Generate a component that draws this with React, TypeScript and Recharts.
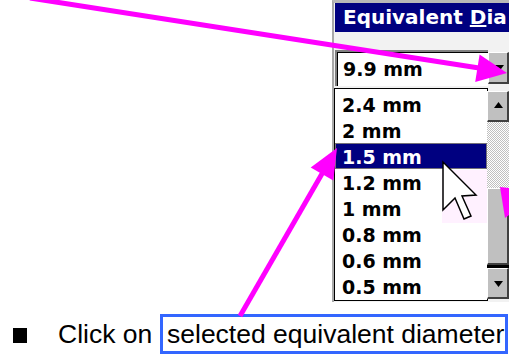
import React from 'react';
import { BarChart, Bar, XAxis, YAxis, Cell, LabelList } from 'recharts';

// list of equivalent diameters shown in the drop-down
const diameters = ['2.4 mm', '2 mm', '1.5 mm', '1.2 mm', '1 mm', '0.8 mm', '0.6 mm', '0.5 mm'];
const selectedDiameter = '1.5 mm';
const comboValue = '9.9 mm';
const dialogTitle = 'Equivalent ';
const dialogTitleHotkey = 'D';
const dialogTitleRest = 'ia';
const instructionLead = 'Click on';
const instructionTarget = 'selected equivalent diameter';

const NAVY = '#000080';
const MAGENTA = '#ff00ff';
const FACE = '#c0c0c0';
const UI_FONT = '"DejaVu Sans", sans-serif';
const TEXT_FONT = '"Liberation Sans", Arial, sans-serif';

const listData = diameters.map((d) => ({ name: d, row: 1, selected: d === selectedDiameter }));

const bevel: React.CSSProperties = {
  position: 'absolute',
  background: FACE,
  boxSizing: 'border-box',
  borderTop: '1px solid #ffffff',
  borderLeft: '1px solid #ffffff',
  borderRight: '2px solid #404040',
  borderBottom: '2px solid #404040',
};

function Triangle({ up }: { up?: boolean }) {
  return (
    <svg width="100%" height="100%" style={{ position: 'absolute', left: 0, top: 0 }}>
      <polygon
        points={up ? '6,18 15,18 10.5,12' : '6,13 15,13 10.5,19'}
        fill="#000"
        transform={up ? 'translate(0,-2)' : 'translate(0,-1)'}
      />
    </svg>
  );
}

function RowShape(props: any) {
  const { x, y, width, height, fill, payload } = props;
  const sel = payload?.selected || props.selected;
  return (
    <g>
      <rect x={x} y={y} width={width} height={height} fill={fill} />
      {sel && (
        <rect
          x={x + 0.5}
          y={y + 0.5}
          width={width - 1}
          height={height - 1}
          fill="none"
          stroke="#e8e070"
          strokeDasharray="1 1"
        />
      )}
    </g>
  );
}

function RowLabel(props: any) {
  const { x, y, height, value, index } = props;
  const sel = listData[index]?.selected;
  return (
    <text
      x={x + 7}
      y={y + height / 2 + 0.5}
      dominantBaseline="central"
      fill={sel ? '#ffffff' : '#000000'}
      fontFamily={UI_FONT}
      fontWeight="bold"
      fontSize={19}
    >
      {value}
    </text>
  );
}

export default function App() {
  return (
    <div
      style={{
        position: 'absolute',
        left: 0,
        top: 0,
        width: 509,
        height: 354,
        background: '#ffffff',
        overflow: 'hidden',
      }}
    >
      {/* dialog panel */}
      <div
        style={{
          position: 'absolute',
          left: 332,
          top: 0,
          width: 177,
          height: 302,
          background: '#f2f2f2',
          borderLeft: '2px solid #a8a8a8',
          borderTop: '3px solid #b8b8b8',
          boxSizing: 'border-box',
        }}
      />
      <div
        style={{
          position: 'absolute',
          left: 335,
          top: 3,
          width: 174,
          height: 29,
          background: NAVY,
          color: '#fff',
          fontFamily: UI_FONT,
          fontWeight: 'bold',
          fontSize: 20,
          lineHeight: '29px',
          paddingLeft: 8,
          boxSizing: 'border-box',
          whiteSpace: 'pre',
          overflow: 'hidden',
        }}
      >
        {dialogTitle}
        <u>{dialogTitleHotkey}</u>
        {dialogTitleRest}
      </div>

      {/* combo box */}
      <div
        style={{
          position: 'absolute',
          left: 335,
          top: 50,
          width: 153,
          height: 36,
          background: '#fff',
          borderTop: '2px solid #808080',
          borderLeft: '2px solid #808080',
          boxShadow: 'inset 1px 1px 0 #000',
          boxSizing: 'border-box',
          fontFamily: UI_FONT,
          fontWeight: 'bold',
          fontSize: 19,
          lineHeight: '34px',
          paddingLeft: 6,
        }}
      >
        {comboValue}
      </div>
      <div style={{ ...bevel, left: 488, top: 52, width: 21, height: 32 }}>
        <Triangle />
      </div>

      {/* list box */}
      <div
        style={{
          position: 'absolute',
          left: 334,
          top: 88,
          width: 154,
          height: 213,
          background: '#fff',
          border: '1px solid #000',
          boxSizing: 'border-box',
        }}
      >
        <div style={{ position: 'absolute', left: 0, top: 2 }}>
          <BarChart
            width={152}
            height={208}
            data={listData}
            layout="vertical"
            margin={{ top: 0, right: 0, bottom: 0, left: 0 }}
            barCategoryGap={0}
          >
            <XAxis type="number" domain={[0, 1]} hide />
            <YAxis type="category" dataKey="name" hide />
            <Bar dataKey="row" isAnimationActive={false} shape={<RowShape />}>
              {listData.map((d) => (
                <Cell key={d.name} fill={d.selected ? NAVY : '#ffffff'} />
              ))}
              <LabelList dataKey="name" content={<RowLabel />} />
            </Bar>
          </BarChart>
        </div>
      </div>

      {/* scrollbar */}
      <div style={{ ...bevel, left: 487, top: 91, width: 22, height: 31 }}>
        <Triangle up />
      </div>
      <div
        style={{
          position: 'absolute',
          left: 487,
          top: 122,
          width: 22,
          height: 66,
          background: 'repeating-conic-gradient(#c0c0c0 0 25%, #ffffff 0 50%) 0 0 / 2px 2px',
        }}
      />
      <div style={{ ...bevel, left: 487, top: 188, width: 22, height: 77 }} />
      <div style={{ position: 'absolute', left: 487, top: 265, width: 22, height: 3, background: '#000' }} />
      <div style={{ ...bevel, left: 487, top: 268, width: 22, height: 31 }}>
        <Triangle />
      </div>

      {/* instruction line */}
      <div style={{ position: 'absolute', left: 13, top: 328, width: 14, height: 15, background: '#000' }} />
      <div
        style={{
          position: 'absolute',
          left: 58,
          top: 319,
          fontFamily: TEXT_FONT,
          fontSize: 26.5,
          lineHeight: '30px',
          whiteSpace: 'pre',
          color: '#000',
        }}
      >
        {instructionLead}
      </div>
      <div
        style={{
          position: 'absolute',
          left: 160,
          top: 314,
          width: 348,
          height: 40,
          border: '3px solid #3366ff',
          boxSizing: 'border-box',
          fontFamily: TEXT_FONT,
          fontSize: 26.5,
          lineHeight: '30px',
          paddingLeft: 4,
          paddingTop: 2,
          whiteSpace: 'pre',
          color: '#000',
        }}
      >
        {instructionTarget}
      </div>

      {/* annotations: tint, cursor, arrows */}
      <svg width={509} height={354} style={{ position: 'absolute', left: 0, top: 0, pointerEvents: 'none' }}>
        <rect x={442} y={170} width={45} height={53} fill="#fff0ff" opacity={0.9} />
        <polygon
          points="443,162 443,210 455,198 464,219 471,216 462,196 476,195"
          fill="#ffffff"
          stroke="#000"
          strokeWidth={1.5}
          strokeLinejoin="miter"
        />
        <line x1={30} y1={-2} x2={479} y2={68} stroke={MAGENTA} strokeWidth={5} />
        <polygon points="507,73 479.6,54.5 475.2,82.1" fill={MAGENTA} />
        <line x1={240} y1={316} x2={323} y2={172} stroke={MAGENTA} strokeWidth={5} />
        <polygon points="337,148 333.3,180.5 310.7,167.5" fill={MAGENTA} />
        <polygon points="500,187 509,188 509,215 505,218" fill={MAGENTA} />
      </svg>
    </div>
  );
}
